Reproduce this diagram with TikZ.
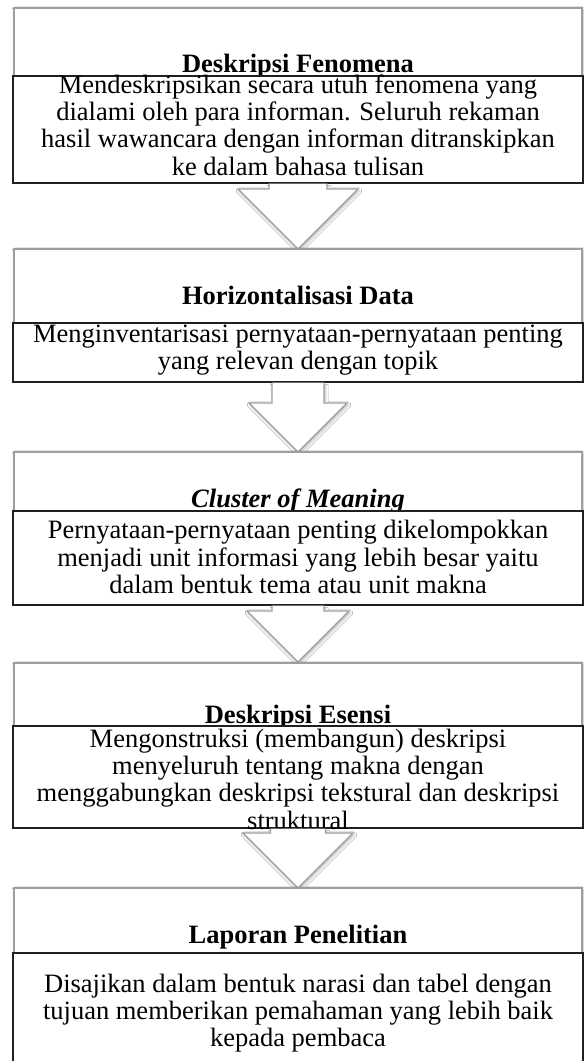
\documentclass[tikz,border=0pt]{standalone}
\usepackage{fontspec}
\setmainfont{Liberation Serif}
\usetikzlibrary{calc,shadows.blur}
\tikzset{
  outerbox/.style={draw=black!38, line width=1.1pt, fill=white, inner sep=0pt, outer sep=0pt,
    blur shadow={shadow xshift=1pt, shadow yshift=-2pt, shadow blur radius=3pt, shadow opacity=30}},
  innerbox/.style={draw=black!88, line width=1.2pt, fill=white, inner sep=0pt, outer sep=0pt},
  blockarrow/.style={draw=black!38, line width=1.1pt, fill=white, line join=miter,
    blur shadow={shadow xshift=1pt, shadow yshift=-2pt, shadow blur radius=3pt, shadow opacity=30}},
  titletext/.style={font=\fontsize{26.5}{27.3}\selectfont\bfseries, inner sep=0pt, anchor=base},
  bodytext/.style={font=\fontsize{26.5}{27.3}\selectfont, align=center, inner sep=0pt},
}
\begin{document}
\begin{tikzpicture}[x=1pt,y=1pt]
\useasboundingbox (0,0) rectangle (584,1061);
\fill[white] (0,0) rectangle (584,1061);
\clip (0,0) rectangle (584,1061);

% Box 1
\node[outerbox, minimum width=568pt, minimum height=160pt] (o1) at (298,973) {};
\node[titletext] (t1) at (298,988) {Deskripsi Fenomena};
\node[innerbox, minimum width=570pt, minimum height=107pt] (i1) at (298,931.5) {};
\node[bodytext] (b1) at (298,936) {Mendeskripsikan secara utuh fenomena yang\\dialami oleh para informan. Seluruh rekaman\\hasil wawancara dengan informan ditranskipkan\\ke dalam bahasa tulisan};

\path (298,812) coordinate (o2top);
\draw[blockarrow] let \p1=(i1.south), \p2=(o2top) in
  (\x2-29pt,\y1-0.6pt) -- (\x2-29pt,\y2+60pt) -- (\x2-60pt,\y2+60pt) -- (\x2,\y2)
  -- (\x2+60pt,\y2+60pt) -- (\x2+29pt,\y2+60pt) -- (\x2+29pt,\y1-0.6pt);

% Box 2
\node[outerbox, minimum width=568pt, minimum height=126pt] (o2) at (298,749) {};
\node[titletext] (t2) at (298,756) {Horizontalisasi Data};
\node[innerbox, minimum width=570pt, minimum height=59pt] (i2) at (298,708.5) {};
\node[bodytext] (b2) at (298,711) {Menginventarisasi pernyataan-pernyataan penting\\yang relevan dengan topik};

\path (298,609) coordinate (o3top);
\draw[blockarrow] let \p1=(i2.south), \p2=(o3top) in
  (\x2-26pt,\y1-0.6pt) -- (\x2-26pt,\y2+49pt) -- (\x2-49pt,\y2+49pt) -- (\x2,\y2)
  -- (\x2+49pt,\y2+49pt) -- (\x2+26pt,\y2+49pt) -- (\x2+26pt,\y1-0.6pt);

% Box 3
\node[outerbox, minimum width=568pt, minimum height=138pt] (o3) at (298,540) {};
\node[titletext] (t3) at (298,553) {\itshape Cluster of Meaning};
\node[innerbox, minimum width=570pt, minimum height=94pt] (i3) at (298,503) {};
\node[bodytext] (b3) at (298,504) {Pernyataan-pernyataan penting dikelompokkan\\menjadi unit informasi yang lebih besar yaitu\\dalam bentuk tema atau unit makna};

\path (298,399) coordinate (o4top);
\draw[blockarrow] let \p1=(i3.south), \p2=(o4top) in
  (\x2-26pt,\y1-0.6pt) -- (\x2-26pt,\y2+51pt) -- (\x2-51pt,\y2+51pt) -- (\x2,\y2)
  -- (\x2+51pt,\y2+51pt) -- (\x2+26pt,\y2+51pt) -- (\x2+26pt,\y1-0.6pt);

% Box 4
\node[outerbox, minimum width=568pt, minimum height=157pt] (o4) at (298,319.5) {};
\node[titletext] (t4) at (298,337) {Deskripsi Esensi};
\node[innerbox, minimum width=570pt, minimum height=102pt] (i4) at (298,284) {};
\node[bodytext] (b4) at (298,282) {Mengonstruksi (membangun) deskripsi\\menyeluruh tentang makna dengan\\menggabungkan deskripsi tekstural dan deskripsi\\struktural};

\path (298,173) coordinate (o5top);
\draw[blockarrow] let \p1=(i4.south), \p2=(o5top) in
  (\x2-27.5pt,\y1-0.6pt) -- (\x2-27.5pt,\y2+55pt) -- (\x2-55pt,\y2+55pt) -- (\x2,\y2)
  -- (\x2+55pt,\y2+55pt) -- (\x2+27.5pt,\y2+55pt) -- (\x2+27.5pt,\y1-0.6pt);

% Box 5
\node[outerbox, minimum width=568pt, minimum height=187pt] (o5) at (298,79.5) {};
\node[titletext] (t5) at (298,117) {Laporan Penelitian};
\node[innerbox, minimum width=570pt, minimum height=128pt] (i5) at (298,44) {};
\node[bodytext] (b5) at (298,48) {Disajikan dalam bentuk narasi dan tabel dengan\\tujuan memberikan pemahaman yang lebih baik\\kepada pembaca};
\end{tikzpicture}
\end{document}
